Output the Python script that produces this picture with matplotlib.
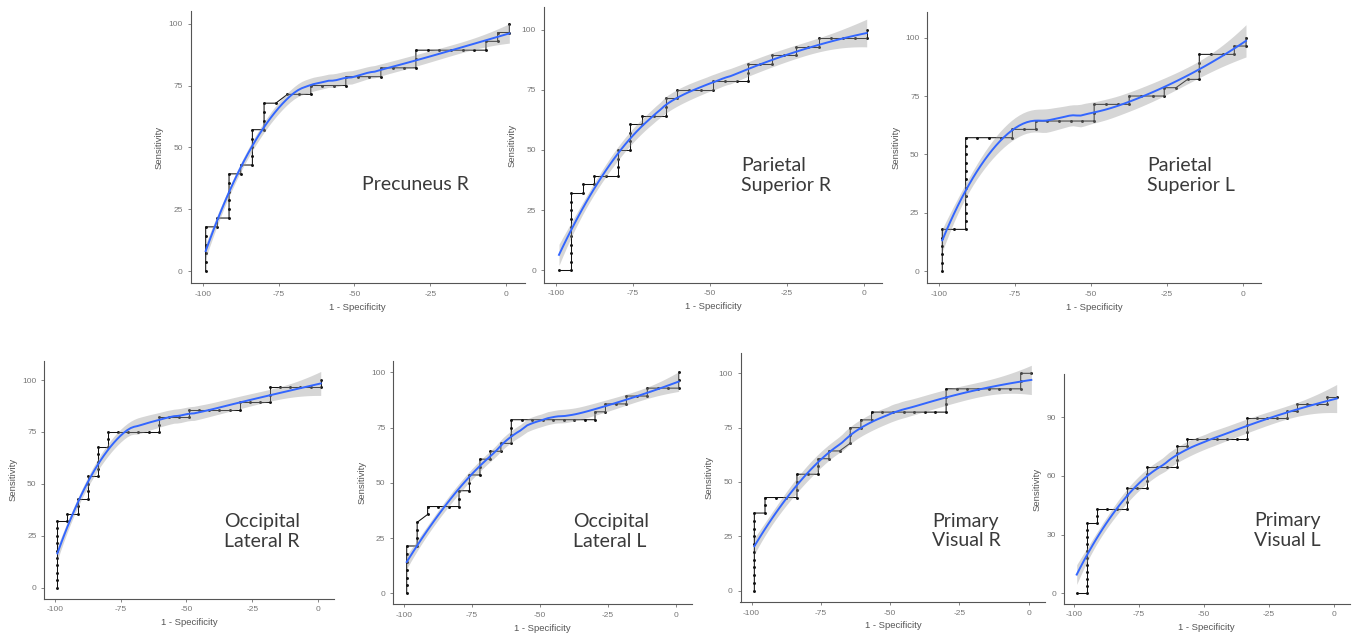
import numpy as np
import matplotlib.pyplot as plt

plt.rcParams['axes.unicode_minus'] = False

# ROC step paths as (controls passed, cases passed) vertices; 26 controls, 28 cases
n_ctrl = 26
n_case = 28

names = ["Precuneus R", "Parietal\nSuperior R", "Parietal\nSuperior L",
         "Occipital\nLateral R", "Occipital\nLateral L",
         "Primary\nVisual R", "Primary\nVisual L"]

path_precuneus_r = [(0, 0), (0, 5), (1, 5), (1, 6), (2, 6), (2, 11), (3, 11), (3, 12),
                    (4, 12), (4, 16), (5, 16), (5, 19), (6, 19), (7, 20), (9, 20), (9, 21),
                    (12, 21), (12, 22), (15, 22), (15, 23), (18, 23), (18, 25), (24, 25),
                    (24, 26), (25, 26), (25, 27), (26, 27), (26, 28)]
path_parietal_sup_r = [(0, 0), (1, 0), (1, 9), (2, 9), (2, 10), (3, 10), (3, 11), (5, 11),
                       (5, 14), (6, 14), (6, 17), (7, 17), (7, 18), (9, 18), (9, 20), (10, 20),
                       (10, 21), (13, 21), (13, 22), (16, 22), (16, 24), (18, 24), (18, 25),
                       (20, 25), (20, 26), (22, 26), (22, 27), (26, 27), (26, 28)]
path_parietal_sup_l = [(0, 0), (0, 5), (2, 5), (2, 16), (6, 16), (6, 17), (8, 17), (8, 18),
                       (13, 18), (13, 20), (16, 20), (16, 21), (19, 21), (19, 22), (20, 22),
                       (21, 23), (22, 23), (22, 26), (25, 26), (25, 27), (26, 27), (26, 28)]
path_occipital_lat_r = [(0, 0), (0, 9), (1, 9), (1, 10), (2, 10), (2, 12), (3, 12), (3, 15),
                        (4, 15), (4, 19), (5, 19), (5, 21), (10, 21), (10, 23), (13, 23),
                        (13, 24), (18, 24), (18, 25), (21, 25), (21, 27), (26, 27), (26, 28)]
path_occipital_lat_l = [(0, 0), (0, 6), (1, 6), (1, 9), (2, 10), (2, 11), (5, 11), (5, 13),
                        (6, 13), (6, 15), (7, 15), (7, 17), (8, 17), (8, 18), (9, 18), (9, 19),
                        (10, 19), (10, 22), (18, 22), (18, 23), (19, 23), (19, 24), (21, 24),
                        (21, 25), (23, 25), (23, 26), (26, 26), (26, 28)]
path_primary_vis_r = [(0, 0), (0, 10), (1, 10), (1, 12), (4, 12), (4, 15), (6, 15), (6, 17),
                      (7, 17), (7, 18), (8, 18), (9, 19), (9, 21), (10, 21), (10, 22), (11, 22),
                      (11, 23), (18, 23), (18, 26), (25, 26), (25, 28), (26, 28)]
path_primary_vis_l = [(0, 0), (1, 0), (1, 10), (2, 10), (2, 12), (5, 12), (5, 15), (7, 15),
                      (7, 18), (10, 18), (10, 21), (11, 21), (11, 22), (17, 22), (17, 25),
                      (21, 25), (21, 26), (22, 26), (22, 27), (25, 27), (25, 28), (26, 28)]

paths = [path_precuneus_r, path_parietal_sup_r, path_parietal_sup_l,
         path_occipital_lat_r, path_occipital_lat_l, path_primary_vis_r, path_primary_vis_l]

x_ticks = [-100, -75, -50, -25, 0]
y_ticks_std = [0, 25, 50, 75, 100]
y_ticks_30 = [0, 30, 60, 90]
y_ticks = [y_ticks_std] * 6 + [y_ticks_30]

# layout in pixels: left, right, top, bottom ; y limits
W, H = 1352, 635
boxes = [(190.5, 524.5, 11.3, 283.4), (543.6, 882.1, 7.3, 282.8), (927.1, 1261.2, 11.8, 283.4),
         (44.2, 333.9, 360.5, 598.5), (393.1, 692.3, 361.3, 604.4), (740.5, 1045.2, 353.3, 602.0),
         (1063.7, 1349.7, 374.3, 603.7)]
ylims = [(-5, 105), (-5.2, 109.3), (-5.3, 111.1), (-5.2, 109.4), (-5, 105), (-5.2, 109.2),
         (-5.3, 111.8)]
# text anchors (left x, centre y) in pixels
text_pos = [(362, 185), (741, 175.5), (1147, 175.5), (224, 531.5), (573, 531.5),
            (932, 531), (1254, 530.5)]


def expand(path):
    pts = [path[0]]
    for (k0, j0), (k1, j1) in zip(path[:-1], path[1:]):
        if k0 == k1 or j0 == j1:
            n = max(abs(k1 - k0), abs(j1 - j0))
            for i in range(1, n + 1):
                pts.append((k0 + (k1 - k0) * i // n, j0 + (j1 - j0) * i // n))
        else:
            pts.append((k1, j1))
    return np.array(pts, float)


def loess(x, y, xs, span=0.75):
    # local quadratic fit with tricube weights, like R's loess
    n = len(x)
    q = int(np.floor(n * span))

    def op(x0):
        d = np.abs(x - x0)
        h = np.sort(d)[q - 1] * 1.0001
        w = np.clip(1 - (d / h) ** 3, 0, None) ** 3
        X = np.column_stack([np.ones(n), x - x0, (x - x0) ** 2])
        XtW = X.T * w
        return np.linalg.solve(XtW @ X, XtW)[0]

    L = np.array([op(v) for v in x])
    res = y - L @ y
    M = np.eye(n) - L
    MtM = M.T @ M
    d1 = np.trace(MtM)
    d2 = np.trace(MtM @ MtM)
    s = np.sqrt(np.sum(res ** 2) / d1)
    df = d1 ** 2 / d2
    Ls = np.array([op(v) for v in xs])
    fit = Ls @ y
    se = s * np.sqrt(np.sum(Ls ** 2, axis=1))
    z = 1.959964
    t = z + (z ** 3 + z) / (4 * df) + (5 * z ** 5 + 16 * z ** 3 + 3 * z) / (96 * df ** 2)
    return fit, fit - t * se, fit + t * se


fig = plt.figure(figsize=(W / 100, H / 100), dpi=100)

for i in range(7):
    l, r, t, b = boxes[i]
    ax = fig.add_axes([l / W, 1 - b / H, (r - l) / W, (b - t) / H])

    verts = np.array(paths[i], float)
    pts = expand(paths[i])
    vx = -99 + 100 * verts[:, 0] / n_ctrl
    vy = 100 * verts[:, 1] / n_case
    px = -99 + 100 * pts[:, 0] / n_ctrl
    py = 100 * pts[:, 1] / n_case

    ax.plot(vx, vy, color='#111111', lw=0.75, zorder=2)
    ax.scatter(px, py, s=4.5, color='#111111', zorder=3, linewidths=0)

    xs = np.linspace(px.min(), px.max(), 80)
    fit, lo, hi = loess(px, py, xs)
    ax.fill_between(xs, lo, hi, color='#999999', alpha=0.4, lw=0, zorder=4)
    ax.plot(xs, fit, color='#3366FF', lw=1.4, zorder=5)

    ax.set_xlim(-104, 6)
    ax.set_ylim(*ylims[i])
    ax.set_xticks(x_ticks)
    ax.set_xticklabels([str(v) for v in x_ticks])
    ax.set_yticks(y_ticks[i])
    ax.set_yticklabels([str(v) for v in y_ticks[i]])
    for side in ['top', 'right']:
        ax.spines[side].set_visible(False)
    for side in ['left', 'bottom']:
        ax.spines[side].set_color('#555555')
        ax.spines[side].set_linewidth(0.8)
    ax.tick_params(length=2.5, width=0.5, color='#555555', pad=3,
                   labelsize=6, labelcolor='#777777')
    ax.set_xlabel("1 - Specificity", fontsize=6.8, color='#555555', labelpad=3.5,
                  family='Liberation Sans')
    ax.set_ylabel("Sensitivity", fontsize=6.8, color='#555555', labelpad=3.5,
                  family='Liberation Sans')
    for lab in ax.get_xticklabels() + ax.get_yticklabels():
        lab.set_family('Liberation Sans')

    tx, ty = text_pos[i]
    fig.text(tx / W, 1 - ty / H, names[i], ha='left', va='center', fontsize=14,
             color='#3a3a3a', family='Lato', linespacing=1.2)

fig.savefig("out.png", dpi=100, facecolor='white')
